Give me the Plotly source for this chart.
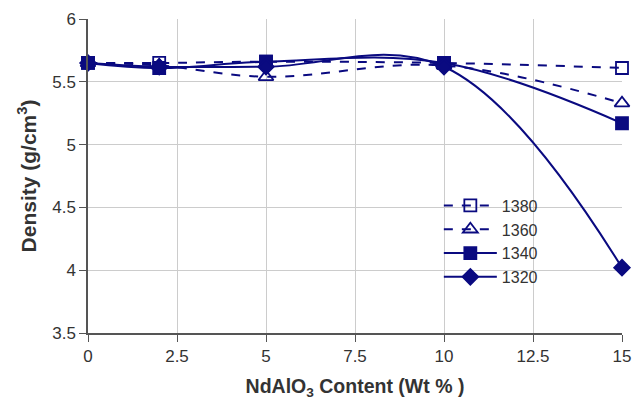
import plotly.graph_objects as go

x_vals = [0, 2, 5, 10, 15]
d1380 = [5.65, 5.65, 5.66, 5.65, 5.61]
d1360 = [5.65, 5.63, 5.54, 5.63, 5.33]
d1340 = [5.65, 5.61, 5.66, 5.65, 5.17]
d1320 = [5.65, 5.62, 5.62, 5.62, 4.02]
names = ["1380", "1360", "1340", "1320"]

navy = "#0a0a80"
fig = go.Figure()
specs = [
    (d1380, "dash", "square-open", 12),
    (d1360, "dash", "triangle-up-open", 13),
    (d1340, "solid", "square", 12),
    (d1320, "solid", "diamond", 12),
]
for name, (ys, dash, sym, sz) in zip(names, specs):
    fig.add_trace(go.Scatter(
        x=x_vals, y=ys, name=name, mode="lines+markers", cliponaxis=False,
        line=dict(color=navy, width=2, dash=dash, shape="spline", smoothing=1.1),
        marker=dict(symbol=sym, size=sz, color=navy,
                    line=dict(color=navy, width=1.8)),
    ))

fig.update_layout(
    width=634, height=403,
    margin=dict(l=88, r=12, t=19, b=70),
    paper_bgcolor="white", plot_bgcolor="white",
    font=dict(family="Liberation Sans, Arial, sans-serif", size=17, color="#333333"),
    legend=dict(x=0.657, y=0.46, xanchor="left", yanchor="top",
                bgcolor="rgba(0,0,0,0)", font=dict(size=16, color="#333333"),
                tracegroupgap=0, itemwidth=53),
    showlegend=True,
)
fig.update_xaxes(
    range=[0, 15], tickvals=[0, 2.5, 5, 7.5, 10, 12.5, 15],
    ticktext=["0", "2.5", "5", "7.5", "10", "12.5", "15"],
    showgrid=True, gridcolor="#cccccc", gridwidth=1,
    showline=True, linecolor="#555555", linewidth=1.5,
    ticks="outside", ticklen=7, tickcolor="#555555",
    zeroline=False, automargin=False,
    title=dict(text="<b>NdAlO<sub>3</sub> Content (Wt % )</b>", font=dict(size=19.5, color="#333333"), standoff=14),
)
fig.update_yaxes(
    range=[3.5, 6], tickvals=[3.5, 4, 4.5, 5, 5.5, 6],
    ticktext=["3.5", "4", "4.5", "5", "5.5", "6"],
    showgrid=True, gridcolor="#cccccc", gridwidth=1,
    showline=True, linecolor="#555555", linewidth=1.5,
    ticks="outside", ticklen=7, tickcolor="#555555",
    zeroline=False, automargin=False,
    title=dict(text="<b>Density (g/cm<sup>3</sup>)</b>", font=dict(size=21, color="#333333"), standoff=10),
)

fig.write_html("out.html", config={"displayModeBar": False},
               post_script="document.body.style.margin='0';document.body.style.overflow='hidden';")
